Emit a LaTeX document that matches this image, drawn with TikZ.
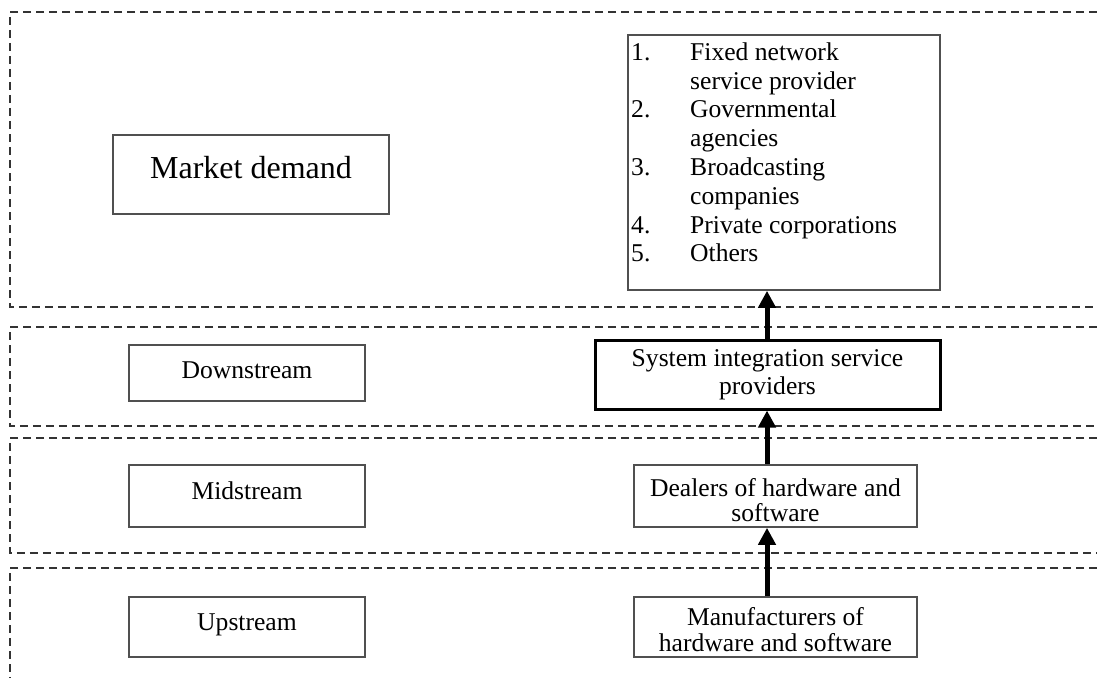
\documentclass[tikz,border=0pt]{standalone}
\usepackage{fontspec}
\setmainfont{Liberation Serif}
\usetikzlibrary{arrows.meta}
\definecolor{boxgray}{HTML}{505050}
\definecolor{dashgray}{HTML}{333333}
\tikzset{
  band/.style={draw=dashgray, line width=2.4pt, dash pattern=on 8pt off 5pt},
  plainbox/.style={draw=boxgray, line width=1.6pt, fill=white, inner sep=0pt, align=center,
    font=\fontsize{25.6}{25.5}\selectfont},
  stagebox/.style={plainbox, minimum width=236pt},
  flowarrow/.style={line width=5pt, -{Triangle[length=17pt,width=17pt]}},
}
\newcommand{\twolines}[3]{\raisebox{#1}[0pt][0pt]{\begin{tabular}{@{}c@{}}#2\\#3\end{tabular}}}
\begin{document}
\begin{tikzpicture}[x=1pt,y=-1pt]
\useasboundingbox (0,0) rectangle (1097,677);
% bands
\draw[band] (1110,12) -- (10,12) -- (10,307) -- (1110,307);
\draw[band] (1110,327) -- (10,327) -- (10,426) -- (1110,426);
\draw[band] (1110,438) -- (10,438) -- (10,553) -- (1110,553);
\draw[band] (1110,568) -- (10,568) -- (10,690);
% left column
\node[plainbox, minimum width=276pt, minimum height=79pt, font=\fontsize{32}{34}\selectfont] (md) at (251,174.5) {\raisebox{15pt}{Market demand}};
\node[stagebox, minimum height=56pt] (down) at (247,373) {\raisebox{5pt}{Downstream}};
\node[stagebox, minimum height=62pt] (mid) at (247,496) {\raisebox{11pt}{Midstream}};
\node[stagebox, minimum height=60pt] (up) at (247,627) {\raisebox{9pt}{Upstream}};
% right column
\node[plainbox, minimum width=312pt, minimum height=255pt] (list) at (784,162.5) {};
\node[anchor=north west, inner sep=0pt, font=\fontsize{25.6}{28.8}\selectfont] (listtext) at (631,40) {%
\begin{tabular}{@{}p{59pt}@{}l@{}}
1. & Fixed network\\
   & service provider\\
2. & Governmental\\
   & agencies\\
3. & Broadcasting\\
   & companies\\
4. & Private corporations\\
5. & Others
\end{tabular}};
\node[plainbox, draw=black, line width=3pt, minimum width=345pt, minimum height=69pt, font=\fontsize{25.6}{28}\selectfont] (si) at (767.5,374.5) {System integration service\\providers};
\node[plainbox, minimum width=283pt, minimum height=62pt] (deal) at (775.5,496) {\twolines{-14pt}{Dealers of hardware and}{software}};
\node[plainbox, minimum width=283pt, minimum height=60pt, font=\fontsize{25.6}{26}\selectfont] (mfr) at (775.5,627) {\twolines{-13pt}{Manufacturers of}{hardware and software}};
% arrows
\coordinate (ax) at (767,0);
\draw[flowarrow] (mfr.north -| ax) -- (deal.south -| ax);
\draw[flowarrow] (deal.north -| ax) -- (si.south -| ax);
\draw[flowarrow] (si.north -| ax) -- (list.south -| ax);
\end{tikzpicture}
\end{document}
